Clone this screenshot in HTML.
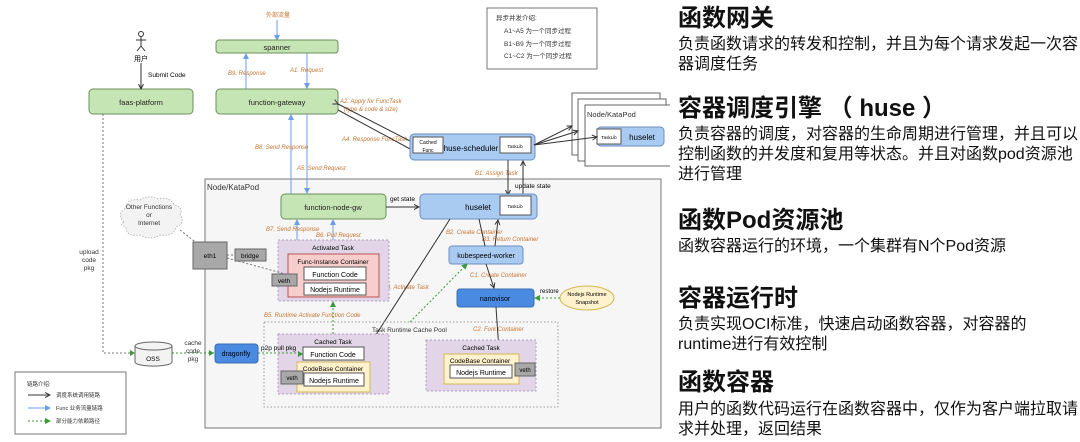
<!DOCTYPE html>
<html><head><meta charset="utf-8"><style>
body{margin:0;width:1080px;height:442px;background:#fff;overflow:hidden;font-family:"Liberation Sans","Noto Sans CJK SC",sans-serif}
svg{position:absolute;left:0;top:0}
.r{position:absolute;left:678px;width:402px;color:#111}
.t{font-size:24px;font-weight:bold;line-height:28px}
.b{font-size:16px;line-height:20px}
</style></head><body>
<svg width="670" height="442" viewBox="0 0 670 442" font-family="Liberation Sans, Noto Sans CJK SC, sans-serif">
<defs>
<marker id="ab" markerWidth="6" markerHeight="6" refX="5" refY="3" orient="auto"><path d="M0,0.5 L5,3 L0,5.5" fill="none" stroke="#333" stroke-width="1"/></marker>
<marker id="au" markerWidth="6" markerHeight="6" refX="5" refY="3" orient="auto"><path d="M0,0 L6,3 L0,6z" fill="#6c9ee8"/></marker>
<marker id="ag" markerWidth="6" markerHeight="6" refX="5" refY="3" orient="auto"><path d="M0,0 L6,3 L0,6z" fill="#3a9a3a"/></marker>
</defs>
<rect x="487" y="8" width="110" height="61" fill="#fff" stroke="#777"/>
<g font-size="6.5" fill="#333"><text x="496" y="20">异步并发介绍:</text><text x="504" y="33">A1~A5 为一个同步过程</text><text x="504" y="46">B1~B9 为一个同步过程</text><text x="504" y="58">C1~C2 为一个同步过程</text></g>
<rect x="205" y="179" width="456" height="249" fill="#f6f6f6" stroke="#777"/>
<text x="207" y="190" font-size="8" fill="#333">Node/KataPod</text>
<rect x="572" y="93" width="88" height="62" fill="#fff" stroke="#666"/>
<rect x="578" y="99" width="88" height="62" fill="#fff" stroke="#666"/>
<rect x="585" y="105" width="88" height="61" fill="#fff" stroke="#666"/>
<text x="587" y="117" font-size="7.5" fill="#333">Node/KataPod</text>
<rect x="597" y="127" width="67" height="19" rx="4" fill="#a9cbf2" stroke="#6c8ebf"/>
<rect x="597" y="129" width="24" height="15" fill="#fff" stroke="#555"/><text x="609" y="139" font-size="4.5" text-anchor="middle">TaskLib</text>
<text x="642" y="140" font-size="8" text-anchor="middle">huselet</text>
<text x="278" y="17" font-size="6" fill="#c87533" text-anchor="middle">外部流量</text>
<line x1="277" y1="20" x2="277" y2="40" stroke="#6c9ee8" marker-end="url(#au)"/>
<g stroke="#6b8f58" fill="#c6e5b4">
<rect x="216" y="40" width="122" height="13" rx="3"/><rect x="216" y="89" width="122" height="25" rx="4"/><rect x="89" y="89" width="104" height="25" rx="4"/><rect x="281" y="194" width="105" height="25" rx="4"/></g>
<g font-size="7.5" text-anchor="middle" fill="#222"><text x="277" y="50">spanner</text><text x="277" y="105">function-gateway</text><text x="141" y="105">faas-platform</text><text x="333" y="210">function-node-gw</text></g>
<g stroke="#333" fill="none"><circle cx="141" cy="34" r="2.5"/><line x1="141" y1="37" x2="141" y2="46"/><line x1="136" y1="40" x2="146" y2="40"/><line x1="141" y1="46" x2="137" y2="51"/><line x1="141" y1="46" x2="145" y2="51"/></g>
<text x="141" y="61" font-size="7" text-anchor="middle">用户</text>
<line x1="141" y1="63" x2="141" y2="89" stroke="#333" marker-end="url(#ab)"/>
<text x="148" y="77" font-size="6.5">Submit Code</text>
<g stroke="#6c9ee8"><line x1="246" y1="89" x2="246" y2="54" marker-end="url(#au)"/><line x1="307" y1="53" x2="307" y2="88" marker-end="url(#au)"/><line x1="291" y1="194" x2="291" y2="115" marker-end="url(#au)"/><line x1="307" y1="114" x2="307" y2="193" marker-end="url(#au)"/>
<line x1="297" y1="254" x2="297" y2="220" marker-end="url(#au)"/><line x1="333" y1="254" x2="333" y2="220" marker-end="url(#au)"/></g>
<g font-size="6" fill="#c87533" font-style="italic"><text x="228" y="75">B9. Response</text><text x="290" y="72">A1. Request</text><text x="340" y="103">A2. Apply for FuncTask</text><text x="344" y="111">(type &amp; code &amp; size)</text><text x="342" y="141">A4. Response FuncTask</text>
<text x="255" y="149">B8. Send Response</text><text x="297" y="170">A5. Send Request</text><text x="475" y="175">B1. Assign Task</text><text x="266" y="231">B7. Send Response</text><text x="316" y="237">B6. Pull Request</text><text x="383" y="289">B4. Activate Task</text><text x="264" y="317">B5. Runtime Activate Function Code</text><text x="446" y="234">B2. Create Container</text><text x="482" y="241">B3. Return Container</text><text x="470" y="277">C1. Create Container</text><text x="473" y="331">C2. Fork Container</text></g>
<g stroke="#333" fill="none"><line x1="338" y1="104" x2="412" y2="142" marker-start="url(#ab)"/><line x1="338" y1="110" x2="412" y2="150"/></g>
<rect x="410" y="134" width="125" height="26" rx="4" fill="#a9cbf2" stroke="#6c8ebf"/>
<rect x="413" y="137" width="30" height="16" fill="#fff" stroke="#555"/><text x="428" y="144" font-size="5" text-anchor="middle">Cached</text><text x="428" y="152" font-size="5" text-anchor="middle">Func</text>
<text x="471" y="151" font-size="8" text-anchor="middle">huse-scheduler</text>
<rect x="500" y="137" width="31" height="16" fill="#fff" stroke="#555"/><text x="515" y="148" font-size="4.5" text-anchor="middle">TaskLib</text>
<g stroke="#333" fill="none"><line x1="534" y1="145" x2="572" y2="126" marker-end="url(#ab)"/><line x1="534" y1="145" x2="578" y2="131" marker-end="url(#ab)"/><line x1="534" y1="145" x2="597" y2="137" marker-end="url(#ab)"/>
<line x1="508" y1="160" x2="508" y2="195" marker-end="url(#ab)"/><line x1="523" y1="195" x2="523" y2="161" marker-end="url(#ab)"/>
<line x1="386" y1="207" x2="419" y2="207" marker-end="url(#ab)"/></g>
<text x="515" y="188" font-size="6.5">update state</text><text x="390" y="201" font-size="6.5">get state</text>
<rect x="420" y="194" width="117" height="25" rx="4" fill="#a9cbf2" stroke="#6c8ebf"/>
<text x="478" y="210" font-size="8" text-anchor="middle">huselet</text>
<rect x="500" y="196" width="31" height="19" fill="#fff" stroke="#555"/><text x="515" y="208" font-size="4.5" text-anchor="middle">TaskLib</text>
<rect x="449" y="246" width="74" height="18" rx="3" fill="#a9cbf2" stroke="#6c8ebf"/><text x="486" y="258" font-size="7" text-anchor="middle">kubespeed-worker</text>
<rect x="457" y="289" width="77" height="18" rx="3" fill="#4a8ae0" stroke="#3a6db0"/><text x="495" y="301" font-size="7" text-anchor="middle">nanovisor</text>
<ellipse cx="587" cy="298" rx="27" ry="12" fill="#fff2cc" stroke="#d6b656"/><text x="587" y="296" font-size="5.5" text-anchor="middle">Nodejs Runtime</text><text x="587" y="304" font-size="5.5" text-anchor="middle">Snapshot</text>
<text x="540" y="293" font-size="6">restore</text>
<line x1="560" y1="298" x2="535" y2="298" stroke="#3a9a3a" stroke-dasharray="2,2" marker-end="url(#ag)"/>
<g stroke="#333" fill="none"><line x1="479" y1="219" x2="485" y2="246"/><line x1="495" y1="246" x2="498" y2="220" marker-end="url(#ab)"/><line x1="486" y1="264" x2="494" y2="288" marker-end="url(#ab)"/><line x1="496" y1="307" x2="499" y2="351" marker-end="url(#ab)"/><line x1="450" y1="219" x2="365" y2="352" marker-end="url(#ab)"/></g>
<rect x="264" y="322" width="294" height="85" fill="none" stroke="#999" stroke-dasharray="1.5,2"/>
<text x="372" y="332" font-size="6.5" fill="#333">Task Runtime Cache Pool</text>
<line x1="410" y1="322" x2="467" y2="264" stroke="#3a9a3a" stroke-dasharray="2,2" marker-end="url(#ag)"/>
<rect x="278" y="240" width="111" height="61" fill="#e1d5e7" stroke="#b0a0c0" stroke-dasharray="2,2"/>
<text x="333" y="250" font-size="6.5" text-anchor="middle">Activated Task</text>
<rect x="288" y="254" width="91" height="43" fill="#f8cecc" stroke="#b85450"/>
<text x="333" y="264" font-size="6.5" text-anchor="middle">Func-Instance Container</text>
<rect x="304" y="267" width="62" height="13" fill="#fff" stroke="#555"/><text x="335" y="277" font-size="7" text-anchor="middle">Function Code</text>
<rect x="304" y="283" width="62" height="12" fill="#fff" stroke="#555"/><text x="335" y="292" font-size="7" text-anchor="middle">Nodejs Runtime</text>
<rect x="272" y="274" width="25" height="12" fill="#a8a8a8" stroke="#666"/><text x="284" y="283" font-size="6.5" text-anchor="middle">veth</text>
<line x1="333" y1="334" x2="333" y2="302" stroke="#3a9a3a" stroke-dasharray="2,2" marker-end="url(#ag)"/>
<rect x="278" y="334" width="111" height="60" fill="#e1d5e7" stroke="#b0a0c0" stroke-dasharray="2,2"/>
<text x="333" y="344" font-size="6.5" text-anchor="middle">Cached Task</text>
<rect x="303" y="347" width="61" height="13" fill="#fff" stroke="#555"/><text x="333" y="357" font-size="7" text-anchor="middle">Function Code</text>
<rect x="297" y="362" width="73" height="30" fill="#fff2cc" stroke="#d6b656"/><text x="333" y="371" font-size="6.5" text-anchor="middle">CodeBase Container</text>
<rect x="304" y="373" width="60" height="13" fill="#fff" stroke="#555"/><text x="334" y="383" font-size="7" text-anchor="middle">Nodejs Runtime</text>
<rect x="281" y="371" width="22" height="13" fill="#a8a8a8" stroke="#666"/><text x="292" y="380" font-size="6" text-anchor="middle">veth</text>
<rect x="426" y="340" width="110" height="51" fill="#e1d5e7" stroke="#b0a0c0" stroke-dasharray="2,2"/>
<text x="481" y="350" font-size="6.5" text-anchor="middle">Cached Task</text>
<rect x="444" y="354" width="75" height="30" fill="#fff2cc" stroke="#d6b656"/><text x="480" y="363" font-size="6.5" text-anchor="middle">CodeBase Container</text>
<rect x="450" y="365" width="62" height="13" fill="#fff" stroke="#555"/><text x="481" y="375" font-size="7" text-anchor="middle">Nodejs Runtime</text>
<rect x="515" y="363" width="20" height="13" fill="#a8a8a8" stroke="#666"/><text x="525" y="372" font-size="6" text-anchor="middle">veth</text>
<path d="M124,222 q-8,-8 2,-14 q0,-10 14,-8 q8,-6 18,-1 q12,-3 16,6 q10,2 6,10 q6,8 -4,12 q-2,10 -16,8 q-10,6 -20,0 q-14,2 -14,-8 q-8,-2 -2,-5z" fill="#f3f3f3" stroke="#bbb" stroke-dasharray="1.5,1.5"/>
<g font-size="6.5" text-anchor="middle" fill="#333"><text x="149" y="209">Other Functions</text><text x="149" y="217">or</text><text x="149" y="225">Internet</text></g>
<g stroke="#777" stroke-dasharray="2,2" fill="none"><line x1="180" y1="230" x2="198" y2="244"/><line x1="227" y1="255" x2="235" y2="255"/><line x1="227" y1="258" x2="285" y2="274"/><polyline points="103,114 103,353 134,353"/><line x1="172" y1="353" x2="214" y2="353" stroke="#3a9a3a"/><line x1="258" y1="353" x2="302" y2="353" stroke="#3a9a3a"/></g>
<path d="M130,350 l5,3 l-5,3z M209,350 l5,3 l-5,3z M298,351 l5,3 l-5,3z" fill="#3a9a3a"/>
<rect x="193" y="242" width="34" height="27" fill="#a8a8a8" stroke="#666"/><text x="210" y="258" font-size="6.5" text-anchor="middle">eth1</text>
<rect x="235" y="249" width="31" height="12" fill="#a8a8a8" stroke="#666"/><text x="250" y="258" font-size="6.5" text-anchor="middle">bridge</text>
<g font-size="6.5" text-anchor="middle" fill="#333"><text x="89" y="254">upload</text><text x="89" y="262">code</text><text x="89" y="270">pkg</text><text x="193" y="345">cache</text><text x="193" y="353">code</text><text x="193" y="361">pkg</text></g>
<text x="261" y="350" font-size="6.5">p2p pull pkg</text>
<path d="M135,346 v16 a18,4 0 0 0 37,0 v-16" fill="#f3f3f3" stroke="#666"/><ellipse cx="153.5" cy="346" rx="18.5" ry="4" fill="#f3f3f3" stroke="#666"/>
<text x="153" y="361" font-size="6.5" text-anchor="middle">OSS</text>
<rect x="215" y="344" width="43" height="19" rx="3" fill="#4a8ae0" stroke="#3a6db0"/><text x="236" y="356" font-size="7" text-anchor="middle">dragonfly</text>
<rect x="15" y="372" width="111" height="62" fill="#fff" stroke="#777"/>
<g font-size="5.5" fill="#333"><text x="27" y="386">链路介绍:</text><text x="56" y="397">调度系统调用链路</text><text x="56" y="410">Func 业务流量链路</text><text x="56" y="423">部分能力依赖路径</text></g>
<line x1="28" y1="395" x2="50" y2="395" stroke="#333" marker-end="url(#ab)"/>
<line x1="28" y1="408" x2="50" y2="408" stroke="#6c9ee8" marker-end="url(#au)"/>
<line x1="28" y1="421" x2="50" y2="421" stroke="#3a9a3a" stroke-dasharray="2,2" marker-end="url(#ag)"/>
</svg>
<div class="r t" style="top:5px">函数网关</div>
<div class="r b" style="top:35px">负责函数请求的转发和控制，并且为每个请求发起一次容器调度任务</div>
<div class="r t" style="top:95px">容器调度引擎 （ huse ）</div>
<div class="r b" style="top:125px">负责容器的调度，对容器的生命周期进行管理，并且可以控制函数的并发度和复用等状态。并且对函数pod资源池进行管理</div>
<div class="r t" style="top:207px">函数Pod资源池</div>
<div class="r b" style="top:237px">函数容器运行的环境，一个集群有N个Pod资源</div>
<div class="r t" style="top:285px">容器运行时</div>
<div class="r b" style="top:315px;width:384px">负责实现OCI标准，快速启动函数容器，对容器的runtime进行有效控制</div>
<div class="r t" style="top:369px">函数容器</div>
<div class="r b" style="top:400px">用户的函数代码运行在函数容器中，仅作为客户端拉取请求并处理，返回结果</div>
</body></html>
